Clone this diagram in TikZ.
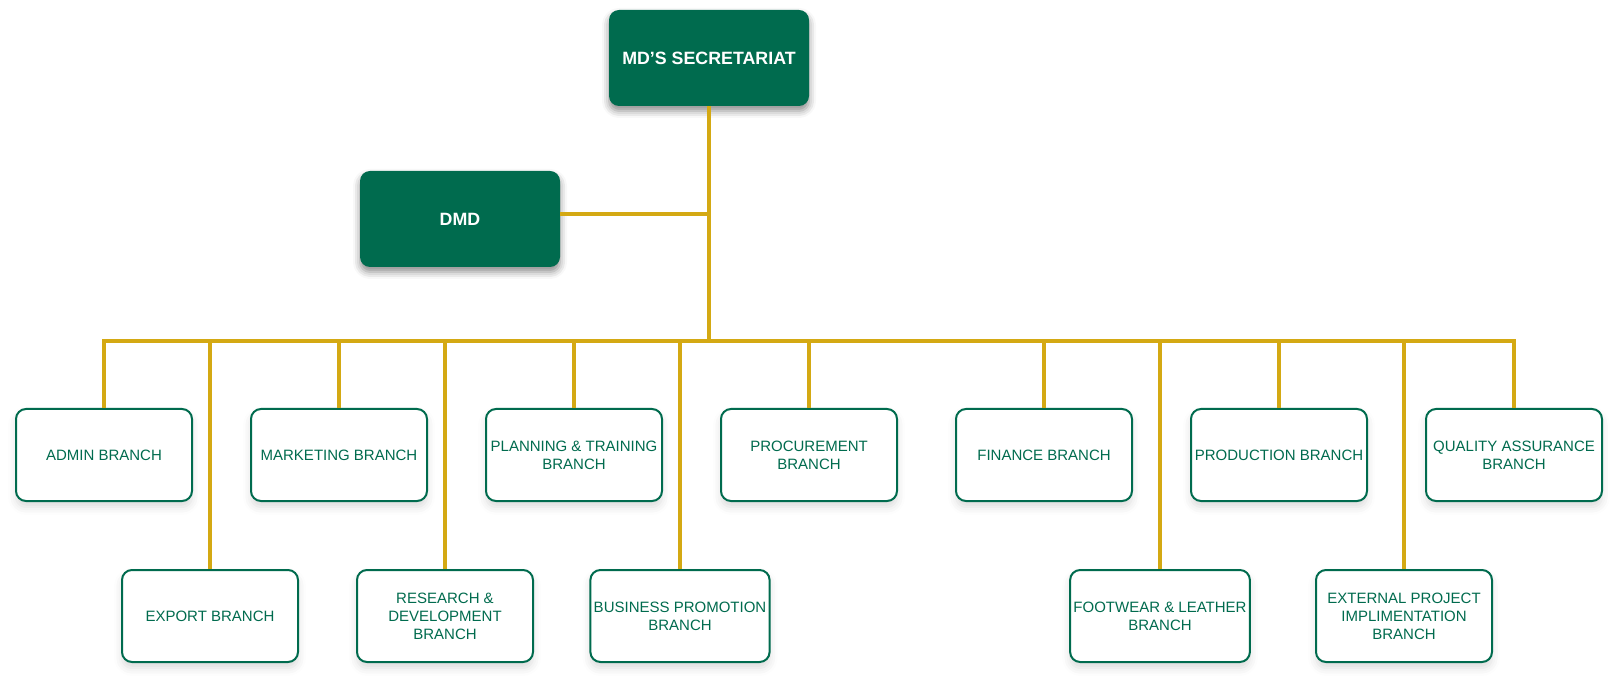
\documentclass[tikz,border=0pt]{standalone}
\usepackage{fontspec}
\setmainfont{Liberation Sans}
\usetikzlibrary{shadows.blur}
\definecolor{deskgreen}{HTML}{006B4E}
\definecolor{linkgold}{HTML}{D4A913}
\tikzset{
    head/.style={fill=deskgreen, rounded corners=10pt, minimum width=200pt, minimum height=96pt,
        text=white, font=\fontsize{17.8}{21}\selectfont\bfseries,
        blur shadow={shadow xshift=0pt, shadow yshift=-5pt, shadow blur radius=7pt, shadow opacity=45}},
    branch/.style={draw=deskgreen, line width=2pt, fill=white, rounded corners=10pt,
        minimum width=176pt, minimum height=92pt, text=deskgreen, align=center,
        font=\fontsize{15}{18}\selectfont,
        blur shadow={shadow xshift=0pt, shadow yshift=-6pt, shadow blur radius=8pt, shadow opacity=14}},
    link/.style={draw=linkgold, line width=4pt}
}
\begin{document}
\begin{tikzpicture}[x=1pt,y=1pt]
        \useasboundingbox (0,0) rectangle (1622,686);
        \def\up{231}
        \def\low{70}
        \node [head] (md) at (709,628) {MD’S SECRETARIAT};
        \node [head] (dmd) at (460,467) {DMD};
        % upper row
        \node [branch] (admin) at (104,\up) {ADMIN BRANCH};
        \node [branch] (marketing) at (339,\up) {MARKETING BRANCH};
        \node [branch] (planning) at (574,\up) {PLANNING \& TRAINING\\BRANCH};
        \node [branch] (procurement) at (809,\up) {PROCUREMENT\\BRANCH};
        \node [branch] (finance) at (1044,\up) {FINANCE BRANCH};
        \node [branch] (production) at (1279,\up) {PRODUCTION BRANCH};
        \node [branch] (quality) at (1514,\up) {QUALITY ASSURANCE\\BRANCH};
        % lower row
        \node [branch] (export) at (210,\low) {EXPORT BRANCH};
        \node [branch] (research) at (445,\low) {RESEARCH \&\\DEVELOPMENT\\BRANCH};
        \node [branch] (promotion) at (680,\low) {BUSINESS PROMOTION\\BRANCH};
        \node [branch] (footwear) at (1160,\low) {FOOTWEAR \& LEATHER\\BRANCH};
        \node [branch] (external) at (1404,\low) {EXTERNAL PROJECT\\IMPLIMENTATION\\BRANCH};
        \coordinate (bus) at (md.south |- 0,345);
        \draw [link] (md.south) -- (bus);
        \draw [link] ([yshift=5pt]dmd.east) -- ([yshift=5pt]dmd.east -| md.south);
        \draw [link] (admin.north) |- (bus) -| (quality.north);
        \draw [link] (marketing.north) -- (marketing.north |- bus);
        \draw [link] (planning.north) -- (planning.north |- bus);
        \draw [link] (procurement.north) -- (procurement.north |- bus);
        \draw [link] (finance.north) -- (finance.north |- bus);
        \draw [link] (production.north) -- (production.north |- bus);
        \draw [link] (export.north) -- (export.north |- bus);
        \draw [link] (research.north) -- (research.north |- bus);
        \draw [link] (promotion.north) -- (promotion.north |- bus);
        \draw [link] (footwear.north) -- (footwear.north |- bus);
        \draw [link] (external.north) -- (external.north |- bus);
    \end{tikzpicture}
\end{document}
